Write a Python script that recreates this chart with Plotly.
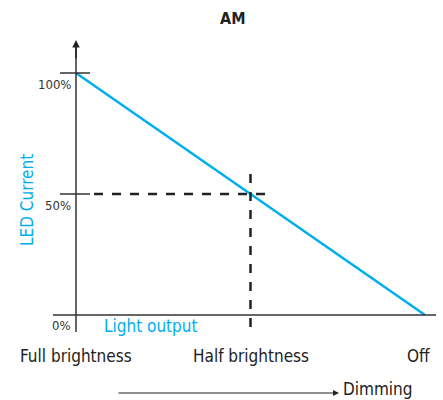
import plotly.graph_objects as go

# ---- data ----
dimming = [0.0, 0.5, 1.0]          # position along dimming axis
led_current = [100, 50, 0]          # LED current (%)
tick_values = [100, 50, 0]
tick_labels = ["100%", "50%", "0%"]
brightness_labels = ["Full brightness", "Half brightness", "Off"]
title_text = "AM"

CYAN = "#00AEEF"
DARK = "#333333"
FONT = "DejaVu Sans Condensed, Liberation Sans Narrow, sans-serif"

x0px, x1px = 76, 425
y0px, y100px = 315, 73
sx = (x1px - x0px)
sy = (y0px - y100px) / 100.0
xr = [-x0px / sx, (443 - x0px) / sx]
yr = [(y0px - 400) / sy, y0px / sy]

def px2x(p):
    return (p - x0px) / sx

def px2y(p):
    return (y0px - p) / sy

fig = go.Figure()
fig.add_trace(go.Scatter(x=dimming, y=led_current, mode="lines",
                         line=dict(color=CYAN, width=2.5), hoverinfo="skip",
                         showlegend=False))

shapes = []
shapes.append(dict(type="line", x0=0, x1=0, y0=px2y(332), y1=px2y(44),
                   line=dict(color=DARK, width=1.5)))
shapes.append(dict(type="line", x0=px2x(53), x1=px2x(436), y0=0, y1=0,
                   line=dict(color=DARK, width=1.5)))
for v in tick_values[:2]:
    shapes.append(dict(type="line", x0=px2x(60), x1=px2x(90), y0=v, y1=v,
                       line=dict(color=DARK, width=1.5)))
shapes.append(dict(type="line", x0=px2x(94), x1=px2x(274), y0=50, y1=50,
                   line=dict(color="#222222", width=2.5, dash="dash")))
shapes.append(dict(type="line", x0=dimming[1], x1=dimming[1], y0=px2y(174), y1=px2y(330),
                   line=dict(color="#222222", width=2.5, dash="dash")))
fig.update_layout(shapes=shapes)

ann = []
ann.append(dict(x=0, y=px2y(40), ax=0, ay=px2y(60), xref="x", yref="y", axref="x", ayref="y",
                showarrow=True, arrowhead=2, arrowsize=1, arrowwidth=1.5,
                arrowcolor="#222222", text=""))
for v, t in zip(tick_values, tick_labels):
    ann.append(dict(x=px2x(73), y=v, xref="x", yref="y", text=t, showarrow=False,
                    xanchor="right", yanchor="top", yshift=-2 if v else -1,
                    font=dict(family=FONT, size=13, color=DARK)))
anchors = ["center", "center", "right"]
xs = [dimming[0], dimming[1], px2x(432)]
for x, t, a in zip(xs, brightness_labels, anchors):
    ann.append(dict(x=x, y=px2y(356), xref="x", yref="y", text=t, showarrow=False,
                    xanchor=a, yanchor="middle",
                    font=dict(family=FONT, size=17, color="#222222")))
ann.append(dict(x=px2x(102), y=px2y(326), xref="x", yref="y", text="Light output",
                showarrow=False, xanchor="left", yanchor="middle",
                font=dict(family=FONT, size=17, color=CYAN)))
ann.append(dict(x=px2x(27), y=px2y(200), xref="x", yref="y", text="LED Current",
                showarrow=False, textangle=-90, xanchor="center", yanchor="middle",
                font=dict(family=FONT, size=17, color=CYAN)))
ann.append(dict(x=px2x(339), y=px2y(393), ax=px2x(117), ay=px2y(393),
                xref="x", yref="y", axref="x", ayref="y", showarrow=True,
                arrowhead=2, arrowsize=1, arrowwidth=1.2, arrowcolor="#222222", text=""))
ann.append(dict(x=px2x(341), y=px2y(389), xref="x", yref="y", text="Dimming",
                showarrow=False, xanchor="left", yanchor="middle",
                font=dict(family=FONT, size=17, color="#222222")))
ann.append(dict(x=px2x(232), y=px2y(18), xref="x", yref="y", text="<b>" + title_text + "</b>",
                showarrow=False, xanchor="center", yanchor="middle",
                font=dict(family=FONT, size=16, color="#222222")))
fig.update_layout(annotations=ann)

fig.update_layout(
    width=443, height=400, margin=dict(l=0, r=0, t=0, b=0),
    paper_bgcolor="white", plot_bgcolor="white",
    xaxis=dict(range=xr, visible=False, fixedrange=True),
    yaxis=dict(range=yr, visible=False, fixedrange=True),
)
fig.write_html("out.html", config={"displayModeBar": False},
               post_script="document.body.style.margin='0';document.body.style.overflow='hidden';")
